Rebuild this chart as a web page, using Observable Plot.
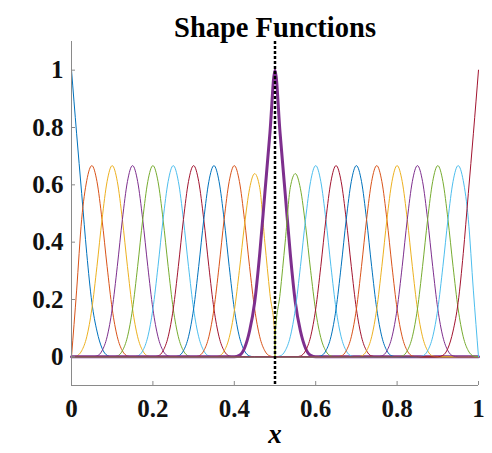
<!DOCTYPE html>
<html>
<head>
<meta charset="utf-8">
<script src="https://cdn.jsdelivr.net/npm/d3@7"></script>
<script src="https://cdn.jsdelivr.net/npm/@observablehq/plot@0.6"></script>
<style>
  html, body { margin: 0; padding: 0; background: #fff; }
</style>
</head>
<body>
<div id="chart"></div>
<script>
// ---- data ----
const titleText = "Shape Functions";
const xLabelText = "x";
const xTickValues = [0, 0.2, 0.4, 0.6, 0.8, 1];
const xTickLabels = ["0", "0.2", "0.4", "0.6", "0.8", "1"];
const yTickValues = [0, 0.2, 0.4, 0.6, 0.8, 1];
const yTickLabels = ["0", "0.2", "0.4", "0.6", "0.8", "1"];

// centres of the 21 shape functions (peak positions)
const centers = [0, 0.05, 0.1, 0.15, 0.2, 0.25, 0.3, 0.35, 0.4, 0.45, 0.5,
                 0.55, 0.6, 0.65, 0.7, 0.75, 0.8, 0.85, 0.9, 0.95, 1];
const spacing = 0.05;       // distance between neighbouring peaks
const interfaceX = 0.5;     // dotted line / interface position
const highlighted = 10;     // the thick function (peak at 0.5)

// interior bump profile: offset (in spacings) -> value
const bumpU = [-2, -1.75, -1.5, -1.25, -1, -0.75, -0.5, -0.25, 0, 0.25, 0.5, 0.75, 1, 1.25, 1.5, 1.75, 2];
const bumpV = [0, 0.003, 0.021, 0.07, 0.167, 0.315, 0.479, 0.612, 0.667, 0.612, 0.479, 0.315, 0.167, 0.07, 0.021, 0.003, 0];

// peak-1 functions (at 0, 0.5, 1): distance from node -> value
const peakD = [0, 0.0125, 0.025, 0.0375, 0.05, 0.0625, 0.075, 0.0875, 0.1];
const peakV = [1, 0.78, 0.57, 0.36, 0.19, 0.09, 0.03, 0.005, 0];

// branch of the 2nd / 20th function towards the domain end (offset in spacings)
const edgeU = [-1, -0.75, -0.5, -0.25, 0];
const edgeV = [0, 0.23, 0.48, 0.615, 0.667];

// branch of the functions next to the interface, towards it
const ifaceU = [0, 0.25, 0.5, 0.75, 1];
const ifaceV = [0.639, 0.59, 0.40, 0.22, 0.07];

const colors = ["#0072BD", "#D95319", "#EDB120", "#7E2F8E", "#77AC30", "#4DBEEE", "#A2142F"];

// ---- build the series ----
const n = centers.length;
function build(i) {
  const c = centers[i];
  let pts = [];
  const scale = ifaceV[0] / bumpV[8];
  if (i === 0) {
    pts = peakD.map((d, j) => [c + d, peakV[j]]);
  } else if (i === n - 1) {
    pts = peakD.map((d, j) => [c - d, peakV[j]]).reverse();
  } else if (i === highlighted) {
    const left = peakD.slice(1).map((d, j) => [c - d, peakV[j + 1]]).reverse();
    const right = peakD.map((d, j) => [c + d, peakV[j]]);
    pts = left.concat(right);
  } else if (i === 1) {
    pts = edgeU.map((u, j) => [c + u * spacing, edgeV[j]]);
    bumpU.forEach((u, j) => { if (u > 0) pts.push([c + u * spacing, bumpV[j]]); });
  } else if (i === n - 2) {
    bumpU.forEach((u, j) => { if (u < 0) pts.push([c + u * spacing, bumpV[j]]); });
    for (let j = edgeU.length - 1; j >= 0; j--) pts.push([c - edgeU[j] * spacing, edgeV[j]]);
  } else if (i === highlighted - 1) {
    bumpU.forEach((u, j) => { if (u < 0) pts.push([c + u * spacing, bumpV[j] * scale]); });
    ifaceU.forEach((u, j) => {
      let x = c + u * spacing;
      if (u === 1) x -= 1e-4;
      pts.push([x, ifaceV[j]]);
    });
    pts.push([interfaceX, 0]);
  } else if (i === highlighted + 1) {
    pts.push([interfaceX, 0]);
    for (let j = ifaceU.length - 1; j >= 0; j--) {
      let x = c - ifaceU[j] * spacing;
      if (ifaceU[j] === 1) x += 1e-4;
      pts.push([x, ifaceV[j]]);
    }
    bumpU.forEach((u, j) => { if (u > 0) pts.push([c + u * spacing, bumpV[j] * scale]); });
  } else {
    pts = bumpU.map((u, j) => [c + u * spacing, bumpV[j]]);
  }
  // clip to [0,1] and pad with zeros
  pts = pts.filter(p => p[0] >= 0 && p[0] <= 1);
  if (pts[0][0] > 0) pts.unshift([0, 0]);
  if (pts[pts.length - 1][0] < 1) pts.push([1, 0]);
  return pts.map(([x, y]) => ({x, y}));
}

const lineMarks = centers.map((c, i) => Plot.line(build(i), {
  x: "x", y: "y",
  stroke: colors[i % colors.length],
  strokeWidth: i === highlighted ? 3 : 1,
  curve: "monotone-x"
}));

const W = 492, H = 453;
const mT = 41, mB = 68, mL = 71, mR = 14;
const frameW = W - mL - mR, frameH = H - mT - mB;
const yLo = -0.1, yHi = 1.1;
const tickLen = 4 * (yHi - yLo) / frameH;
const axisColor = "#8a8a8a";
const fontFamily = "'Liberation Serif', 'Times New Roman', serif";

const chart = Plot.plot({
  width: W, height: H,
  marginTop: mT, marginBottom: mB, marginLeft: mL, marginRight: mR,
  style: {fontFamily, fontSize: "25px", fontWeight: "bold", color: "#111", background: "#fff"},
  x: {domain: [0, 1], ticks: xTickValues, tickFormat: d => xTickLabels[xTickValues.indexOf(d)],
      tickSize: 0, tickPadding: 14, label: null},
  y: {domain: [yLo, yHi], ticks: yTickValues, tickFormat: d => yTickLabels[yTickValues.indexOf(d)],
      tickSize: 0, tickPadding: 8, label: null},
  marks: [
    ...lineMarks,
    Plot.ruleX([0], {stroke: axisColor, strokeWidth: 1}),
    Plot.ruleY([yLo], {stroke: axisColor, strokeWidth: 1}),
    Plot.tickY(yTickValues, {y: d => d, stroke: axisColor, insetRight: frameW - 4}),
    Plot.ruleX(xTickValues, {x: d => d, y1: yLo, y2: yLo + tickLen, stroke: axisColor}),
    Plot.ruleX([interfaceX], {stroke: "#000", strokeWidth: 2.5, strokeDasharray: "3,2"}),
    Plot.text([titleText], {text: d => d, frameAnchor: "top", dy: -25, fontSize: 28.5, fontWeight: "bold", fill: "#000"}),
    Plot.text([xLabelText], {text: d => d, frameAnchor: "bottom", dy: 57, fontSize: 27, fontWeight: "bold", fontStyle: "italic", fill: "#000"})
  ]
});
document.getElementById("chart").appendChild(chart);
</script>
</body>
</html>
